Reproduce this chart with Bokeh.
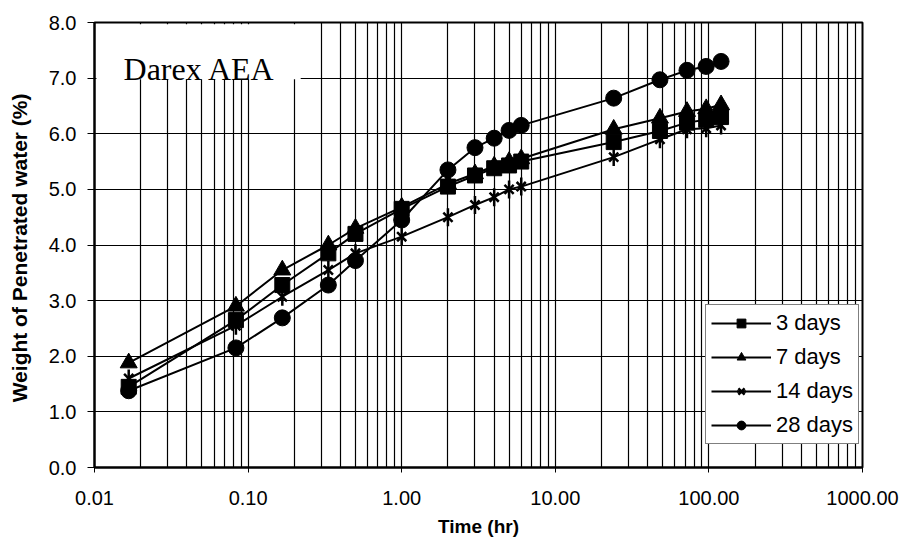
from bokeh.plotting import figure
from bokeh.models import (FixedTicker, PrintfTickFormatter, Legend, LegendItem,
                          BoxAnnotation, Label)
from bokeh.embed import file_html
from bokeh.resources import INLINE
import math

# ---- data ----
times = [0.0167, 0.0833, 0.167, 0.333, 0.5, 1, 2, 3, 4, 5, 6, 24, 48, 72, 96, 120]
days3 = [1.45, 2.65, 3.28, 3.85, 4.20, 4.65, 5.05, 5.25, 5.38, 5.43, 5.50, 5.85, 6.05, 6.20, 6.25, 6.30]
days7 = [1.88, 2.90, 3.55, 4.00, 4.30, 4.68, 5.10, 5.28, 5.42, 5.50, 5.55, 6.08, 6.28, 6.40, 6.45, 6.52]
days14 = [1.60, 2.55, 3.07, 3.55, 3.85, 4.15, 4.50, 4.72, 4.86, 5.00, 5.05, 5.58, 5.90, 6.08, 6.10, 6.15]
days28 = [1.38, 2.15, 2.69, 3.28, 3.72, 4.45, 5.35, 5.75, 5.92, 6.06, 6.15, 6.64, 6.97, 7.14, 7.21, 7.30]
x_ticks = [0.01, 0.1, 1, 10, 100, 1000]
y_ticks = [0, 1, 2, 3, 4, 5, 6, 7, 8]
series_labels = ["3 days", "7 days", "14 days", "28 days"]

FONT = "Liberation Sans"

p = figure(x_axis_type="log", x_range=(0.01, 1000), y_range=(0, 8),
           frame_width=768, frame_height=445,
           min_border_left=94, min_border_top=22, min_border_right=44, min_border_bottom=74,
           output_backend="svg", toolbar_location=None)

p.background_fill_color = "white"
p.border_fill_color = "white"
p.outline_line_color = "black"
p.outline_line_width = 2

minor = [m * 10 ** e for e in range(-2, 3) for m in range(2, 10)]
p.xaxis.ticker = FixedTicker(ticks=x_ticks, minor_ticks=minor)
p.yaxis.ticker = FixedTicker(ticks=y_ticks)
p.xaxis.formatter = PrintfTickFormatter(format="%.2f")
p.yaxis.formatter = PrintfTickFormatter(format="%.1f")

for ax in (p.xaxis[0], p.yaxis[0]):
    ax.axis_line_color = "black"
    ax.axis_line_width = 2
    ax.major_tick_line_color = "black"
    ax.major_tick_in = 0
    ax.minor_tick_in = 0
    ax.minor_tick_out = 0
    ax.major_label_text_font = FONT
    ax.major_label_text_font_size = "20px"
    ax.major_label_text_color = "black"
    ax.axis_label_text_font = FONT
    ax.axis_label_text_font_style = "bold"
    ax.axis_label_text_color = "black"

p.xaxis.axis_label_text_font_size = "19px"
p.yaxis.axis_label_text_font_size = "21px"
p.xaxis.major_tick_out = 5
p.yaxis.major_tick_out = 7
p.xaxis.major_label_standoff = 18
p.yaxis.major_label_standoff = 11
p.xaxis.axis_label = "Time (hr)"
p.yaxis.axis_label = "Weight of Penetrated water  (%)"
p.xaxis.axis_label_standoff = 8
p.yaxis.axis_label_standoff = 15

p.xgrid.grid_line_color = "black"
p.xgrid.grid_line_width = 1.2
p.xgrid.minor_grid_line_color = "black"
p.xgrid.minor_grid_line_width = 1.2
p.ygrid.grid_line_color = "black"
p.ygrid.grid_line_width = 1.2

LW = 2
l3 = p.line(times, days3, line_color="black", line_width=LW)
m3 = p.scatter(times, days3, marker="square", size=15, fill_color="black", line_color="black")
l7 = p.line(times, days7, line_color="black", line_width=LW)
m7 = p.scatter(times, days7, marker="triangle", size=17, fill_color="black", line_color="black")
l14 = p.line(times, days14, line_color="black", line_width=LW)
m14a = p.scatter(times, days14, marker="x", size=13, line_color="black", line_width=2.5)
m14b = p.scatter(times, days14, marker="dash", size=18, angle=math.pi / 2, line_color="black", line_width=2.5)
l28 = p.line(times, days28, line_color="black", line_width=LW)
m28 = p.scatter(times, days28, marker="circle", size=16, fill_color="black", line_color="black")

legend = Legend(items=[
    LegendItem(label=series_labels[0], renderers=[l3, m3]),
    LegendItem(label=series_labels[1], renderers=[l7, m7]),
    LegendItem(label=series_labels[2], renderers=[l14, m14a, m14b]),
    LegendItem(label=series_labels[3], renderers=[l28, m28]),
], location=(611, 23))
legend.label_text_font = FONT
legend.label_text_font_size = "22px"
legend.label_text_color = "black"
legend.glyph_width = 60
legend.glyph_height = 22
legend.label_height = 22
legend.spacing = 8
legend.padding = 5
legend.margin = 0
legend.label_standoff = 5
legend.border_line_color = "black"
legend.border_line_width = 1
legend.background_fill_color = "white"
legend.background_fill_alpha = 1
p.add_layout(legend, "center")

box = BoxAnnotation(left=0.0103, right=0.22, bottom=6.98, top=7.97,
                    fill_color="white", fill_alpha=1, line_alpha=0)
p.add_layout(box)
p.add_layout(Label(x=0.01545, y=7.16, text="Darex AEA", text_font="Liberation Serif",
                   text_font_size="32px", text_baseline="alphabetic", text_color="black"))

open("out.html", "w").write(file_html(p, INLINE))
